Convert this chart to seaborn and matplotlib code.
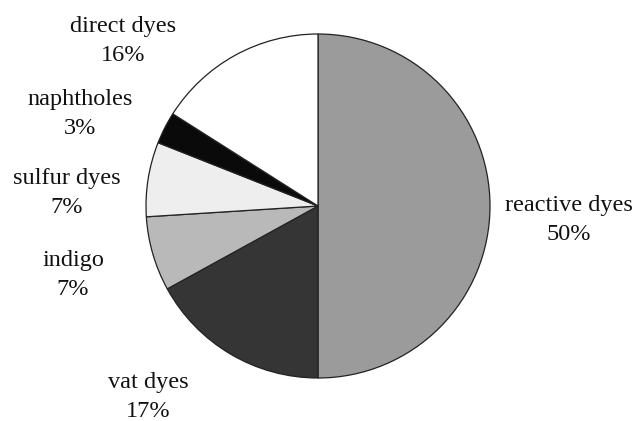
import matplotlib
matplotlib.use("Agg")
import matplotlib.pyplot as plt
import seaborn as sns

# dye classes, clockwise from 12 o'clock
labels = ['reactive dyes', 'vat dyes', 'indigo', 'sulfur dyes', 'naphtholes', 'direct dyes']
shares = [50, 17, 7, 7, 3, 16]
colors = ['#9b9b9b', '#353535', '#b9b9b9', '#eeeeee', '#0a0a0a', '#ffffff']

sns.set_theme(style='white')
plt.rcParams['font.family'] = ['Liberation Serif', 'DejaVu Serif']

W, H = 636, 421
cx, cy, r = 318, 206, 172   # pie centre / radius in pixels

fig = plt.figure(figsize=(W / 100, H / 100), dpi=100)
ax = fig.add_axes([0, 0, 1, 1])
ax.pie(shares, colors=colors, startangle=90, counterclock=False,
       wedgeprops=dict(edgecolor='#222222', linewidth=0.9))
ax.set_xlim(-cx / r, (W - cx) / r)
ax.set_ylim(-(H - cy) / r, cy / r)
ax.set_aspect('equal')
ax.axis('off')

# label centres in pixels (from the picture)
label_pos = {
    'reactive dyes': (569, 220),
    'vat dyes': (148, 397),
    'indigo': (73, 275),
    'sulfur dyes': (67, 193),
    'naphtholes': (80, 114),
    'direct dyes': (123, 41),
}
for name, val in zip(labels, shares):
    px, py = label_pos[name]
    ax.text((px - cx) / r, (cy - py) / r, f'{name}\n{val}%', ha='center', va='center',
            fontsize=17.5, linespacing=1.55, color='#111111')

fig.savefig('out.png', dpi=100)
